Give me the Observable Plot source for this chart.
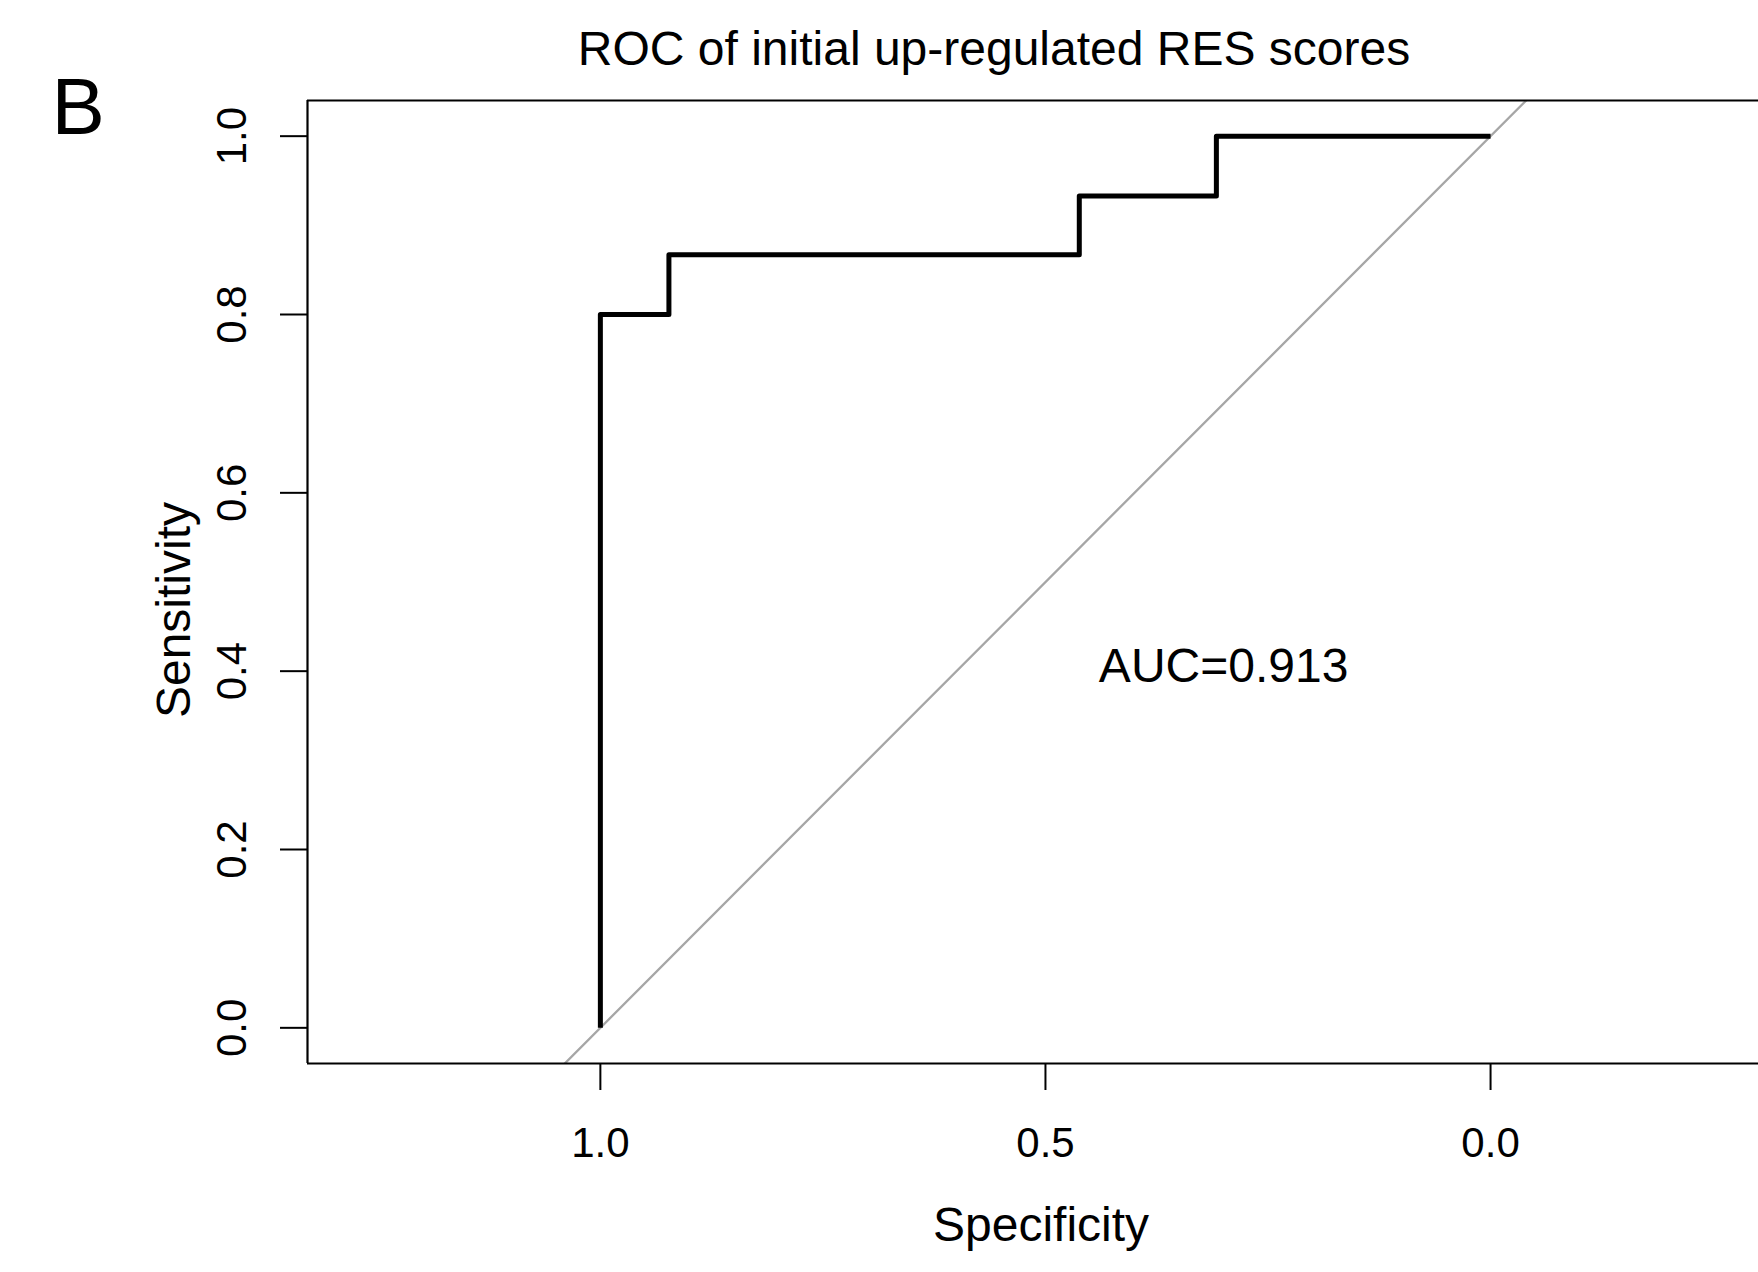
<!DOCTYPE html>
<html>
<head>
<meta charset="utf-8">
<script src="https://cdn.jsdelivr.net/npm/d3@7"></script>
<script src="https://cdn.jsdelivr.net/npm/@observablehq/plot@0.6"></script>
<style>
  html, body { margin: 0; padding: 0; background: #fff; }
  #chart { width: 1758px; height: 1272px; }
</style>
</head>
<body>
<div id="chart"></div>
<script>
// ---- data ----
const chartTitle = "ROC of initial up-regulated RES scores";
const panelLabel = "B";
const xLabel = "Specificity";
const yLabel = "Sensitivity";
const aucLabel = "AUC=0.913";
const aucSpec = 0.44;   // text position (specificity)
const aucSens = 0.405;  // text position (sensitivity)

// ROC corner points (specificity, sensitivity)
const specificity = [1, 1, 0.923, 0.462, 0.308, 0];
const sensitivity = [0, 0.8, 0.867, 0.933, 1, 1];

// identity (chance) reference line end points, clipped to frame
const diagSpec = [1.5, -0.5];
const diagSens = [-0.5, 1.5];

const xTicks = [1, 0.5, 0];
const yTicks = [0, 0.2, 0.4, 0.6, 0.8, 1];
const xDomain = [1.329, -0.301];
const yDomain = [-0.04, 1.04];

// ---- tables ----
const roc = specificity.map((s, i) => ({spec: s, sens: sensitivity[i]}));
const diag = diagSpec.map((s, i) => ({spec: s, sens: diagSens[i]}));

const FONT = "Liberation Sans, Arial, Helvetica, sans-serif";

const chart = Plot.plot({
  width: 1758,
  height: 1272,
  marginLeft: 307,
  marginRight: 0,
  marginTop: 100,
  marginBottom: 209,
  style: {fontFamily: FONT, background: "white", color: "black", overflow: "visible"},
  x: {domain: xDomain},
  y: {domain: yDomain},
  marks: [
    // chance line
    Plot.line(diag, {x: "spec", y: "sens", stroke: "#a6a6a6", strokeWidth: 2.3, clip: true}),
    // ROC curve
    Plot.line(roc, {x: "spec", y: "sens", curve: "step-after", stroke: "black",
                    strokeWidth: 5, strokeLinejoin: "round", strokeLinecap: "butt"}),
    // frame (top, bottom, left)
    Plot.ruleY(yDomain, {stroke: "black", strokeWidth: 2.2}),
    Plot.ruleX([xDomain[0]], {stroke: "black", strokeWidth: 2.2}),
    // x axis
    Plot.axisX({ticks: xTicks, tickSize: 27, tickPadding: 37, tickFormat: ".1f",
                fontSize: 42, strokeWidth: 2, label: null}),
    // y axis tick lines
    Plot.axisY({ticks: yTicks, tickSize: 27, tickFormat: () => null, strokeWidth: 2, label: null}),
    // y tick labels (rotated, R style)
    Plot.text(yTicks, {y: d => d, frameAnchor: "left", dx: -75, rotate: -90,
                       text: d => d3.format(".1f")(d), fontSize: 42,
                       textAnchor: "middle", lineAnchor: "middle", fill: "black"}),
    // axis titles
    Plot.text([xLabel], {frameAnchor: "bottom", dx: 8, dy: 162.6, fontSize: 48,
                         textAnchor: "middle", lineAnchor: "middle", fill: "black"}),
    Plot.text([yLabel], {frameAnchor: "left", dx: -133, dy: 28, rotate: -90, fontSize: 48,
                         textAnchor: "middle", lineAnchor: "middle", fill: "black"}),
    // title and panel letter
    Plot.text([chartTitle], {frameAnchor: "top", dx: -39, dy: -50.4, fontSize: 48,
                             textAnchor: "middle", lineAnchor: "middle", fill: "black"}),
    Plot.text([panelLabel], {frameAnchor: "top-left", dx: -256, dy: 7.4, fontSize: 80,
                             textAnchor: "start", lineAnchor: "middle", fill: "black"}),
    // AUC annotation
    Plot.text([aucLabel], {x: () => aucSpec, y: () => aucSens, fontSize: 48,
                           textAnchor: "start", lineAnchor: "middle", fill: "black"})
  ]
});

document.getElementById("chart").append(chart);
</script>
</body>
</html>
